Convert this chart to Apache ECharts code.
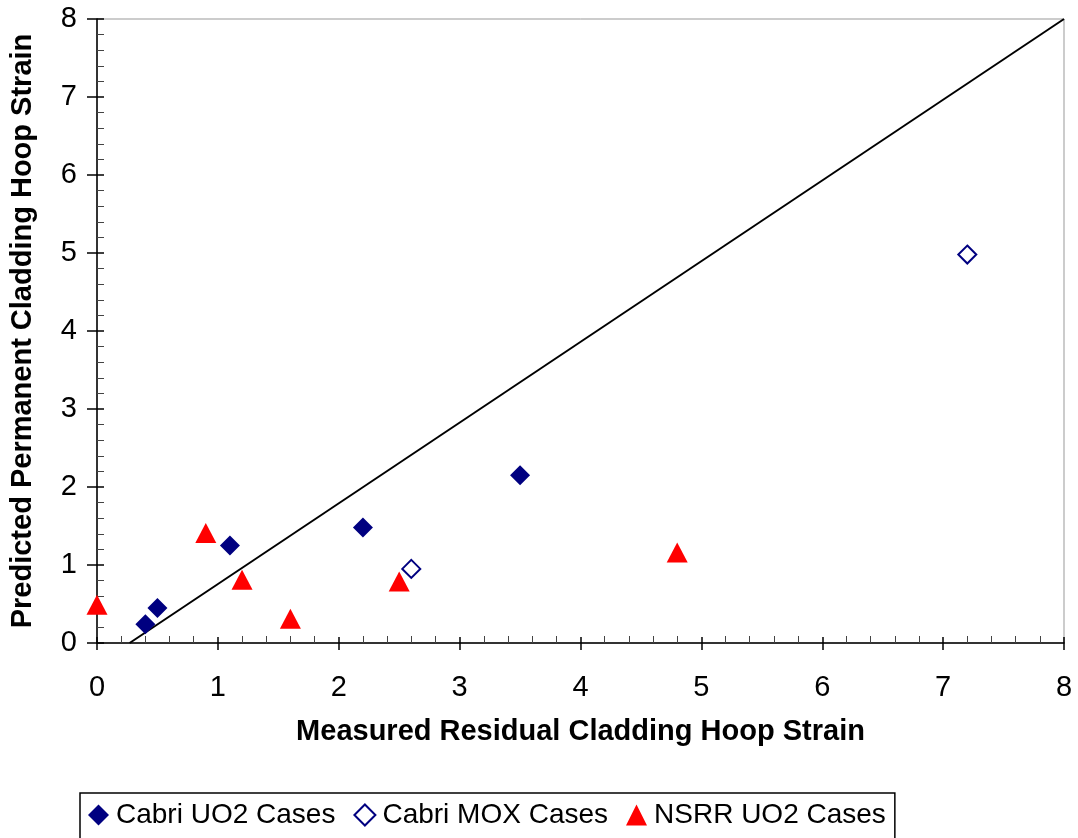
<!DOCTYPE html>
<html>
<head>
<meta charset="utf-8">
<script src="https://cdn.jsdelivr.net/npm/echarts@6/dist/echarts.min.js"></script>
<style>
html,body{margin:0;padding:0;background:#fff;}
#chart{width:1078px;height:838px;}
</style>
</head>
<body>
<div id="chart"></div>
<script>
// ---- data ----
const xTickLabels = ['0','1','2','3','4','5','6','7','8'];
const yTickLabels = ['0','1','2','3','4','5','6','7','8'];
const seriesNames = ['Cabri UO2 Cases', 'Cabri MOX Cases', 'NSRR UO2 Cases'];
const cabriUO2X = [0.4, 0.5, 1.1, 2.2, 3.5];
const cabriUO2Y = [0.24, 0.45, 1.25, 1.48, 2.15];
const cabriMOXX = [2.6, 7.2];
const cabriMOXY = [0.95, 4.98];
const nsrrX = [0, 0.9, 1.2, 1.6, 2.5, 4.8];
const nsrrY = [0.49, 1.41, 0.81, 0.31, 0.79, 1.16];
const refLineX = [0.27, 8];
const refLineY = [0, 8];

const pair = (xs, ys) => xs.map((x, i) => [x, ys[i]]);
const FONT = "'Liberation Sans', Arial, sans-serif";

const chart = echarts.init(document.getElementById('chart'), null, {renderer: 'canvas'});

const baseX = {
  type: 'value', min: 0, max: 8, interval: 1, position: 'bottom'
};
const baseY = {
  type: 'value', min: 0, max: 8, interval: 1, position: 'left'
};

chart.setOption({
  animation: false,
  backgroundColor: '#fff',
  grid: {
    left: 96, right: 14, top: 19, bottom: 195,
    show: true, borderColor: '#999', borderWidth: 1
  },
  xAxis: [
    Object.assign({}, baseX, {
      name: 'Measured Residual Cladding Hoop Strain',
      nameLocation: 'middle', nameGap: 74,
      nameTextStyle: {fontFamily: FONT, fontWeight: 'bold', fontSize: 29, color: '#000'},
      axisLine: {show: true, lineStyle: {color: '#000', width: 1.5}},
      axisTick: {show: true, inside: false, length: 7, lineStyle: {color: '#000', width: 1.5}},
      axisLabel: {show: true, margin: 30, fontFamily: FONT, fontSize: 29, color: '#000',
        formatter: v => xTickLabels[Math.round(v)]},
      splitLine: {show: false}
    }),
    Object.assign({}, baseX, {
      axisLine: {show: false},
      axisTick: {show: true, inside: true, length: 6, lineStyle: {color: '#000', width: 1.5}},
      minorTick: {show: true, splitNumber: 5, length: 7, lineStyle: {color: '#444', width: 1}},
      axisLabel: {show: false},
      splitLine: {show: false}
    })
  ],
  yAxis: [
    Object.assign({}, baseY, {
      name: 'Predicted Permanent Cladding Hoop Strain',
      nameLocation: 'middle', nameGap: 60, nameRotate: 90,
      nameTextStyle: {fontFamily: FONT, fontWeight: 'bold', fontSize: 29, color: '#000'},
      axisLine: {show: true, lineStyle: {color: '#000', width: 1.5}},
      axisTick: {show: true, inside: false, length: 10, lineStyle: {color: '#000', width: 1.5}},
      axisLabel: {show: true, margin: 20, fontFamily: FONT, fontSize: 29, color: '#000',
        formatter: v => yTickLabels[Math.round(v)]},
      splitLine: {show: false}
    }),
    Object.assign({}, baseY, {
      axisLine: {show: false},
      axisTick: {show: true, inside: true, length: 7, lineStyle: {color: '#000', width: 1.5}},
      minorTick: {show: true, splitNumber: 5, length: 7, lineStyle: {color: '#444', width: 1}},
      axisLabel: {show: false},
      splitLine: {show: false}
    })
  ],
  legend: {
    data: seriesNames,
    left: 80, top: 793,
    orient: 'horizontal',
    padding: [8, 9, 20, 8],
    itemGap: 18,
    itemWidth: 21, itemHeight: 21,
    borderColor: '#000', borderWidth: 1.5,
    textStyle: {fontFamily: FONT, fontSize: 28, color: '#000', padding: [0, 0, 0, 2]}
  },
  series: [
    {
      type: 'line', name: 'ref', data: pair(refLineX, refLineY),
      xAxisIndex: 0, yAxisIndex: 0, symbol: 'none', silent: true, z: 1,
      lineStyle: {color: '#000', width: 2}
    },
    {
      type: 'scatter', name: seriesNames[0], data: pair(cabriUO2X, cabriUO2Y),
      xAxisIndex: 0, yAxisIndex: 0, symbol: 'diamond', symbolSize: 20, clip: false, z: 3,
      itemStyle: {color: '#000080', opacity: 1}
    },
    {
      type: 'scatter', name: seriesNames[1], data: pair(cabriMOXX, cabriMOXY),
      xAxisIndex: 0, yAxisIndex: 0, symbol: 'diamond', symbolSize: 18, clip: false, z: 3,
      itemStyle: {color: '#fff', borderColor: '#000080', borderWidth: 2, opacity: 1}
    },
    {
      type: 'scatter', name: seriesNames[2], data: pair(nsrrX, nsrrY),
      xAxisIndex: 0, yAxisIndex: 0, symbol: 'triangle', symbolSize: [21, 20], clip: false, z: 3,
      itemStyle: {color: '#ff0000', opacity: 1}
    }
  ]
});
</script>
</body>
</html>
